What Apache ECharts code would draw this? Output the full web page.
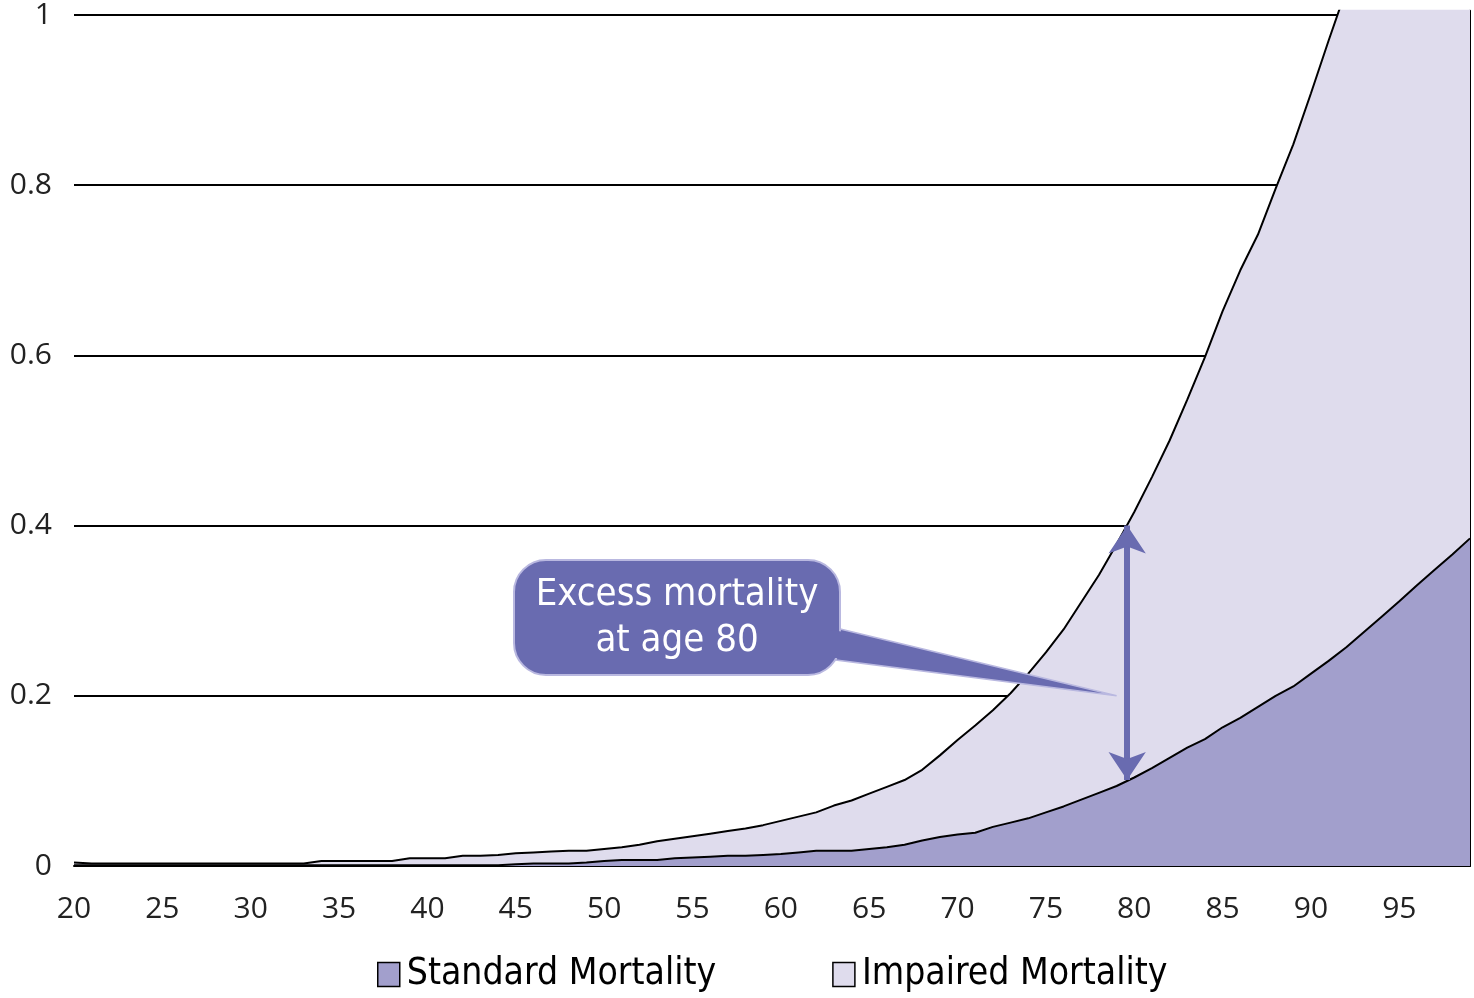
<!DOCTYPE html>
<html>
<head>
<meta charset="utf-8">
<script src="https://cdn.jsdelivr.net/npm/echarts@6/dist/echarts.min.js"></script>
<style>
html,body{margin:0;padding:0;background:#fff;}
#chart{width:1474px;height:998px;}
</style>
</head>
<body>
<div id="chart"></div>
<script>
const ages = [];
for (let a = 20; a <= 99; a++) ages.push(a);

const standardMortality = [
  0.001,0.001,0.001,0.001,0.001,0.001,0.001,0.001,0.001,0.001, // 20-29
  0.001,0.001,0.001,0.001,0.001,0.001,0.001,0.001,0.001,0.001, // 30-39
  0.001,0.001,0.001,0.001,0.001,0.002,0.003,0.003,0.003,0.004, // 40-49
  0.006,0.007,0.007,0.007,0.009,0.010,0.011,0.012,0.012,0.013, // 50-59
  0.014,0.016,0.018,0.018,0.018,0.020,0.022,0.025,0.030,0.034, // 60-69
  0.037,0.039,0.046,0.051,0.056,0.063,0.070,0.078,0.086,0.094, // 70-79
  0.104,0.115,0.127,0.139,0.149,0.163,0.174,0.187,0.200,0.211, // 80-89
  0.226,0.241,0.257,0.275,0.293,0.311,0.330,0.348,0.366,0.385  // 90-99
];

const impairedMortality = [
  0.004,0.003,0.003,0.003,0.003,0.003,0.003,0.003,0.003,0.003, // 20-29
  0.003,0.003,0.003,0.003,0.006,0.006,0.006,0.006,0.006,0.009, // 30-39
  0.009,0.009,0.012,0.012,0.013,0.015,0.016,0.017,0.018,0.018, // 40-49
  0.020,0.022,0.025,0.029,0.032,0.035,0.038,0.041,0.044,0.048, // 50-59
  0.053,0.058,0.063,0.071,0.077,0.085,0.093,0.101,0.113,0.130, // 60-69
  0.148,0.165,0.183,0.203,0.226,0.251,0.278,0.310,0.342,0.378, // 70-79
  0.416,0.457,0.500,0.548,0.598,0.652,0.700,0.742,0.796,0.848, // 80-89
  0.908,0.970,1.030,1.100,1.170,1.245,1.320,1.390,1.465,1.540  // 90-99
];

const yTicks = [0, 0.2, 0.4, 0.6, 0.8, 1];
const xTickLabels = [20,25,30,35,40,45,50,55,60,65,70,75,80,85,90,95];
const seriesNames = ['Standard Mortality', 'Impaired Mortality'];
const calloutText = ['Excess mortality', 'at age 80'];
const excessAge = 79.6;
const excessTop = 0.40;
const excessBottom = 0.101;

const DARK = '#a29fcc';
const LIGHT = '#dfdced';
const CALLOUT = '#696bb0';
const NARROW = '"Liberation Sans Narrow", "DejaVu Sans Condensed", Roboto, sans-serif';
const AXISFONT = '"Open Sans", sans-serif';

const chart = echarts.init(document.getElementById('chart'), null, {renderer: 'canvas'});

const stdData = ages.map((a, i) => [a, standardMortality[i]]);
const impData = ages.map((a, i) => [a, impairedMortality[i]]);

chart.setOption({
  animation: false,
  backgroundColor: '#fff',
  grid: {left: 74, right: 4, top: 10, bottom: 132, containLabel: false},
  xAxis: {
    type: 'value', min: 20, max: 99, interval: 5,
    axisLine: {show: true, lineStyle: {color: '#000', width: 2}},
    axisTick: {show: false},
    splitLine: {show: false},
    axisLabel: {
      showMaxLabel: false, margin: 28, fontSize: 30, color: '#222',
      fontFamily: AXISFONT,
      formatter: v => xTickLabels.indexOf(v) >= 0 ? String(v) : ''
    }
  },
  yAxis: [{
    type: 'value', min: 0, max: 1.005, interval: 0.2,
    axisLine: {show: false},
    axisTick: {show: false},
    splitLine: {show: true, showMaxLine: false, lineStyle: {color: '#000', width: 2}},
    axisLabel: {
      showMaxLabel: false, margin: 22, fontSize: 30, color: '#222',
      fontFamily: AXISFONT,
      formatter: v => {
        const t = yTicks.find(t => Math.abs(t - v) < 1e-9);
        return t === undefined ? '' : String(t);
      }
    }
  }, {
    type: 'value', min: 0, max: 1.005, position: 'right',
    axisLine: {show: true, lineStyle: {color: '#000', width: 2}},
    axisTick: {show: false}, axisLabel: {show: false}, splitLine: {show: false}
  }],
  legend: {
    bottom: 0, left: 372, itemGap: 116, itemWidth: 22, itemHeight: 24,
    textStyle: {fontSize: 37, color: '#000', fontFamily: NARROW, padding: [0,0,0,2]},
    data: [
      {name: seriesNames[0], icon: 'rect', itemStyle: {color: DARK, borderColor: '#000', borderWidth: 1.5}},
      {name: seriesNames[1], icon: 'rect', itemStyle: {color: LIGHT, borderColor: '#000', borderWidth: 1.5}}
    ]
  },
  series: [{
    name: seriesNames[1], type: 'line', data: impData, showSymbol: false, symbol: 'none',
    itemStyle: {color: LIGHT}, clip: true,
    lineStyle: {color: '#000', width: 2},
    areaStyle: {color: LIGHT, opacity: 1}, z: 2
  }, {
    name: seriesNames[0], type: 'line', data: stdData, showSymbol: false, symbol: 'none',
    itemStyle: {color: DARK}, clip: true,
    lineStyle: {color: '#000', width: 2},
    areaStyle: {color: DARK, opacity: 1}, z: 3,
    markLine: {
      silent: true, symbol: ['arrow', 'arrow'], symbolSize: [28, 28], label: {show: false},
      lineStyle: {color: CALLOUT, width: 6, type: 'solid'},
      data: [[{coord: [excessAge, excessTop]}, {coord: [excessAge, excessBottom]}]]
    }
  }]
});

// Callout box and pointer
const tip = chart.convertToPixel({xAxisIndex: 0, yAxisIndex: 0}, [excessAge - 0.6, 0.2]);
chart.setOption({
  graphic: [
    {type: 'polygon', z: 100,
     shape: {points: [[836, 628], [836, 660], [tip[0], tip[1]]]},
     style: {fill: CALLOUT, stroke: '#b9b8e0', lineWidth: 1.5}},
    {type: 'rect', z: 101,
     shape: {x: 514, y: 560, width: 326, height: 115, r: 32},
     style: {fill: CALLOUT, stroke: '#b9b8e0', lineWidth: 2}},
    {type: 'polygon', z: 102,
     shape: {points: [[830, 630], [830, 658], [845, 658], [845, 632]]},
     style: {fill: CALLOUT}},
    {type: 'text', z: 103, left: 677 - 150, top: 572,
     style: {text: calloutText.join('\n'), width: 300, align: 'center', fill: '#fff',
             font: '38px ' + NARROW, lineHeight: 46, textAlign: 'center'}}
  ]
});
</script>
</body>
</html>
